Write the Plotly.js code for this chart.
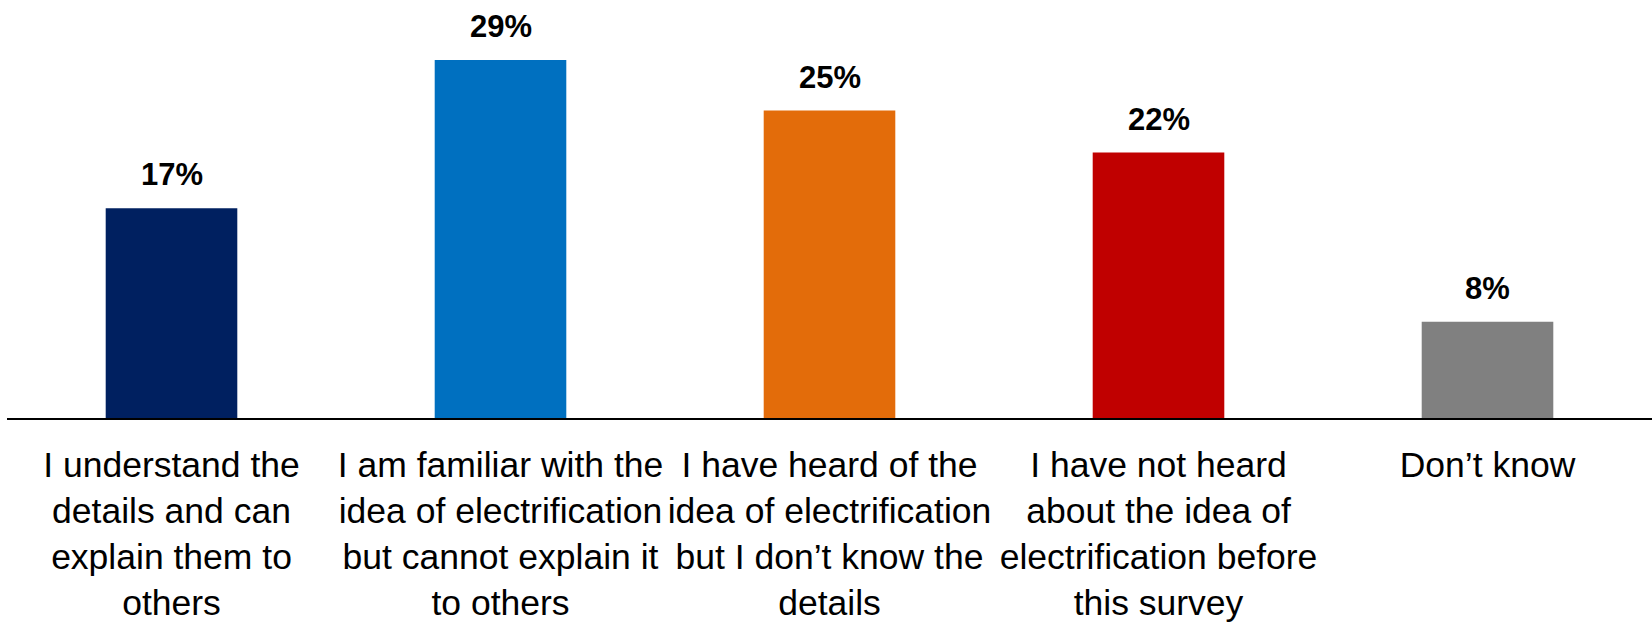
<!DOCTYPE html>
<html>
<head>
<meta charset="utf-8">
<script src="https://cdn.plot.ly/plotly-3.0.1.min.js"></script>
<style>
  html, body { margin: 0; padding: 0; background: #ffffff; }
  #chart { width: 1652px; height: 627px; }
</style>
</head>
<body>
<div id="chart"></div>
<script>
const categories = [
  "I understand the<br>details and can<br>explain them to<br>others",
  "I am familiar with the<br>idea of electrification<br>but cannot explain it<br>to others",
  "I have heard of the<br>idea of electrification<br>but I don\u2019t know the<br>details",
  "I have not heard<br>about the idea of<br>electrification before<br>this survey",
  "Don\u2019t know"
];
const values = [17.0, 29.0, 24.9, 21.5, 7.8];
const valueLabels = ["17%", "29%", "25%", "22%", "8%"];
const barColors = ["#002060", "#0070C0", "#E36C0A", "#C00000", "#808080"];

const FONT = "'Liberation Sans', Arial, sans-serif";

const trace = {
  type: "bar",
  x: categories,
  y: values,
  marker: { color: barColors, line: { width: 0 } },
  hoverinfo: "skip"
};

const annotations = categories.map((c, i) => ({
  x: c,
  y: values[i],
  xref: "x",
  yref: "y",
  text: "<b>" + valueLabels[i] + "</b>",
  showarrow: false,
  yanchor: "bottom",
  xanchor: "center",
  yshift: 14,
  font: { family: FONT, size: 31, color: "#000000" }
}));

const layout = {
  width: 1652,
  height: 627,
  margin: { l: 7, r: 0, t: 0, b: 209, pad: 0 },
  paper_bgcolor: "#ffffff",
  plot_bgcolor: "#ffffff",
  showlegend: false,
  bargap: 0.6,
  xaxis: {
    type: "category",
    showgrid: false,
    zeroline: false,
    showline: true,
    linecolor: "#000000",
    linewidth: 2,
    ticks: "",
    tickangle: 0,
    ticklabelstandoff: 14,
    tickfont: { family: FONT, size: 35.5, color: "#000000" },
    fixedrange: true
  },
  yaxis: {
    range: [0, 33.86],
    visible: false,
    showgrid: false,
    zeroline: false,
    fixedrange: true
  },
  annotations: annotations
};

Plotly.newPlot("chart", [trace], layout, { displayModeBar: false, staticPlot: true });
</script>
</body>
</html>
